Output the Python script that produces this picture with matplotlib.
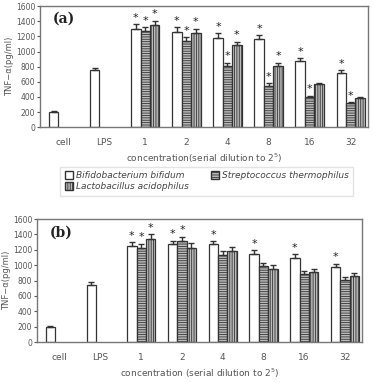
import numpy as np
import matplotlib.pyplot as plt
from matplotlib.patches import Patch

categories = ['cell', 'LPS', '1', '2', '4', '8', '16', '32']
species = ['Bifidobacterium bifidum', 'Streptococcus thermophilus', 'Lactobacillus acidophilus']

# panel (a): cell/LPS controls, then three strains per dilution
ctrl_a = [200, 750]
ctrl_err_a = [10, 30]
bif_a = [1300, 1260, 1180, 1160, 870, 710]
str_a = [1270, 1140, 810, 550, 400, 320]
lac_a = [1350, 1240, 1080, 810, 570, 390]
bif_err_a = [60, 60, 60, 55, 40, 40]
str_err_a = [50, 50, 40, 30, 15, 10]
lac_err_a = [55, 60, 50, 40, 15, 15]
star_a = [[1, 1, 1, 1, 1, 1], [1, 1, 1, 1, 1, 1], [1, 1, 1, 1, 0, 0]]

# panel (b)
ctrl_b = [200, 740]
ctrl_err_b = [10, 40]
bif_b = [1250, 1270, 1270, 1140, 1090, 970]
str_b = [1230, 1310, 1130, 990, 890, 810]
lac_b = [1340, 1230, 1180, 950, 910, 860]
bif_err_b = [50, 50, 40, 55, 50, 50]
str_err_b = [50, 60, 50, 40, 40, 35]
lac_err_b = [60, 60, 60, 50, 45, 40]
star_b = [[1, 1, 1, 1, 1, 1], [1, 1, 0, 0, 0, 0], [1, 0, 0, 0, 0, 0]]

grey = '#555555'
w = 0.23
hatches = ['', '-------', '|||||||']
faces = ['white', '#bbbbbb', '#bbbbbb']


def draw_panel(ax, ctrl, ctrl_err, series, errs, stars, tag, xlabel):
    x = np.arange(len(categories))
    ek = dict(ecolor='#333333', elinewidth=1, capsize=2.5, capthick=1)
    ax.bar(x[:2] - w, ctrl, w, color='white', edgecolor='#333333', linewidth=0.9,
           yerr=[[0, 0], ctrl_err], error_kw=ek)
    for i, (vals, err) in enumerate(zip(series, errs)):
        pos = x[2:] - w + i * w
        ax.bar(pos, vals, w, color=faces[i], edgecolor='#333333', linewidth=0.9,
               hatch=hatches[i], yerr=[[0] * len(vals), err], error_kw=ek)
        for p, v, e, s in zip(pos, vals, err, stars[i]):
            if s:
                ax.text(p, v + e + 20, '*', ha='center', va='bottom', fontsize=8, color='#222222')
    ax.set_xlim(-0.56, 7.42)
    ax.set_ylim(0, 1600)
    ax.set_yticks(range(0, 1601, 200))
    ax.set_xticks(x)
    ax.set_xticklabels(categories)
    ax.tick_params(axis='x', length=0, pad=8, labelsize=6.5, colors=grey)
    ax.tick_params(axis='y', length=2, pad=1.5, labelsize=5.5, colors=grey)
    for sp in ax.spines.values():
        sp.set_color('#777777')
        sp.set_linewidth(1)
    ax.set_ylabel('TNF\u2212\u03b1(pg/ml)', fontsize=6, color=grey, labelpad=1)
    ax.set_xlabel(xlabel, fontsize=6.5, color=grey, labelpad=3)
    ax.text(0.04, 0.86, tag, transform=ax.transAxes, fontsize=10, fontweight='bold',
            family='DejaVu Serif', color='#222222')


plt.rcParams['hatch.color'] = '#333333'
plt.rcParams['hatch.linewidth'] = 0.6
fig = plt.figure(figsize=(3.74, 3.83), dpi=100)
ax1 = fig.add_axes([0.107, 0.668, 0.877, 0.316])
ax2 = fig.add_axes([0.099, 0.107, 0.869, 0.321])

draw_panel(ax1, ctrl_a, ctrl_err_a, [bif_a, str_a, lac_a], [bif_err_a, str_err_a, lac_err_a],
           star_a, '(a)', 'concentration(serial dilution to 2$^5$)')
draw_panel(ax2, ctrl_b, ctrl_err_b, [bif_b, str_b, lac_b], [bif_err_b, str_err_b, lac_err_b],
           star_b, '(b)', 'concentration (serial dilution to 2$^5$)')

handles = [Patch(facecolor=faces[i], edgecolor='#333333', hatch=hatches[i], label=species[i])
           for i in [0, 2, 1]]
leg = fig.legend(handles=handles, ncol=2, loc='center', bbox_to_anchor=(0.553, 0.527),
                 prop={'size': 6.5, 'style': 'italic'}, frameon=True, fancybox=False,
                 handlelength=0.9, handleheight=0.9, handletextpad=0.3, columnspacing=2.5,
                 labelspacing=0.2, borderpad=0.5)
leg.get_frame().set_edgecolor('#dddddd')
for t in leg.get_texts():
    t.set_color('#444444')

fig.savefig('out.png', dpi=100)
